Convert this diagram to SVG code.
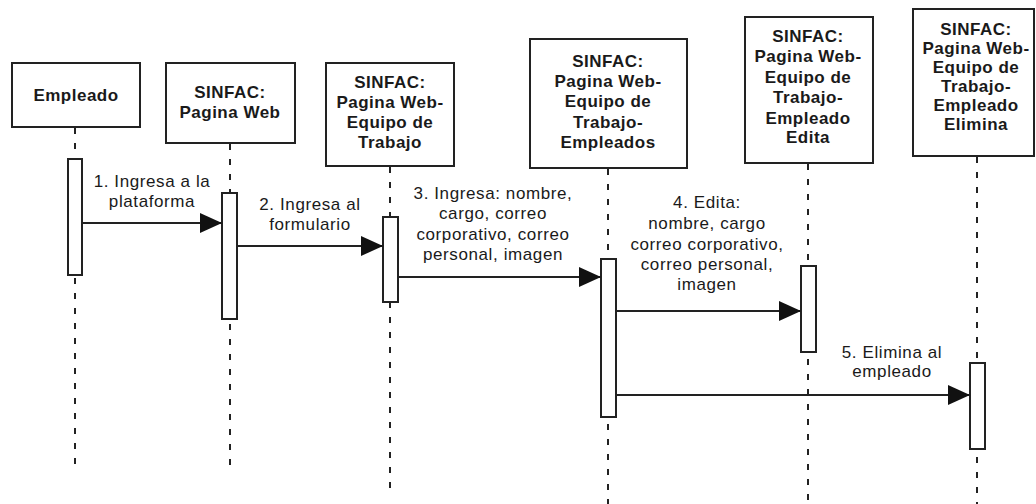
<svg xmlns="http://www.w3.org/2000/svg" width="1036" height="504" viewBox="0 0 1036 504">
<style>
.box{fill:#fff;stroke:#222;stroke-width:2}
.bar{fill:#fff;stroke:#222;stroke-width:2}
.life{stroke:#222;stroke-width:2;stroke-dasharray:6 9;fill:none}
.msg{stroke:#222;stroke-width:2;fill:none;marker-end:url(#ah)}
.h{font-family:"Liberation Sans",Arial,sans-serif;font-size:17px;font-weight:bold;fill:#1a1a1a;text-anchor:middle;letter-spacing:0.5px}
.l{font-family:"Liberation Sans",Arial,sans-serif;font-size:17px;fill:#1a1a1a;text-anchor:middle;letter-spacing:0.6px}
</style>
<defs>
<marker id="ah" markerUnits="userSpaceOnUse" markerWidth="22" markerHeight="20" refX="22" refY="10" orient="auto">
<path d="M0,0 L22,10 L0,20 Z" fill="#111"/>
</marker>
</defs>
<rect width="1036" height="504" fill="#fff"/>
<g id="lifelines">
<line class="life" x1="75" y1="128" x2="75" y2="473"/>
<line class="life" x1="230" y1="144" x2="230" y2="473"/>
<line class="life" x1="390" y1="167" x2="390" y2="497"/>
<line class="life" x1="608" y1="169" x2="608" y2="504"/>
<line class="life" x1="808" y1="164" x2="808" y2="504"/>
<line class="life" x1="977" y1="157" x2="977" y2="504"/>
</g>
<g id="n1">
<rect class="box" x="12" y="63" width="128" height="64"/>
<text class="h" x="76" y="101">Empleado</text>
<rect class="bar" x="68" y="159" width="14" height="116"/>
</g>
<g id="n2">
<rect class="box" x="166" y="63" width="129" height="80"/>
<text class="h" x="230" y="98">SINFAC:</text>
<text class="h" x="230" y="118">Pagina Web</text>
<rect class="bar" x="222" y="193" width="15" height="126"/>
</g>
<g id="n3">
<rect class="box" x="326" y="63" width="128" height="103"/>
<text class="h" x="390" y="88">SINFAC:</text>
<text class="h" x="390" y="108">Pagina Web-</text>
<text class="h" x="390" y="128">Equipo de</text>
<text class="h" x="390" y="148">Trabajo</text>
<rect class="bar" x="383" y="217" width="15" height="85"/>
</g>
<g id="n4">
<rect class="box" x="530" y="39" width="157" height="129"/>
<text class="h" x="608" y="67">SINFAC:</text>
<text class="h" x="608" y="87">Pagina Web-</text>
<text class="h" x="608" y="107">Equipo de</text>
<text class="h" x="608" y="128">Trabajo-</text>
<text class="h" x="608" y="148">Empleados</text>
<rect class="bar" x="601" y="259" width="15" height="158"/>
</g>
<g id="n5">
<rect class="box" x="745" y="17" width="128" height="146"/>
<text class="h" x="808" y="42">SINFAC:</text>
<text class="h" x="808" y="62">Pagina Web-</text>
<text class="h" x="808" y="83">Equipo de</text>
<text class="h" x="808" y="103">Trabajo-</text>
<text class="h" x="808" y="124">Empleado</text>
<text class="h" x="808" y="143">Edita</text>
<rect class="bar" x="801" y="266" width="15" height="86"/>
</g>
<g id="n6">
<rect class="box" x="913" y="9" width="121" height="147"/>
<text class="h" x="976" y="35">SINFAC:</text>
<text class="h" x="976" y="54">Pagina Web-</text>
<text class="h" x="976" y="73">Equipo de</text>
<text class="h" x="976" y="92">Trabajo-</text>
<text class="h" x="976" y="111">Empleado</text>
<text class="h" x="976" y="130">Elimina</text>
<rect class="bar" x="970" y="363" width="15" height="86"/>
</g>
<g id="connectors">
<line class="msg" x1="82" y1="223" x2="222" y2="223"/>
<text class="l" x="152" y="187">1. Ingresa a la</text>
<text class="l" x="152" y="207">plataforma</text>
<line class="msg" x1="237" y1="246" x2="383" y2="246"/>
<text class="l" x="310" y="210">2. Ingresa al</text>
<text class="l" x="310" y="230">formulario</text>
<line class="msg" x1="398" y1="277" x2="601" y2="277"/>
<text class="l" x="493" y="199">3. Ingresa: nombre,</text>
<text class="l" x="493" y="219">cargo, correo</text>
<text class="l" x="493" y="240">corporativo, correo</text>
<text class="l" x="493" y="260">personal, imagen</text>
<line class="msg" x1="616" y1="311" x2="801" y2="311"/>
<text class="l" x="707" y="208">4. Edita:</text>
<text class="l" x="707" y="229">nombre, cargo</text>
<text class="l" x="707" y="250">correo corporativo,</text>
<text class="l" x="707" y="270">correo personal,</text>
<text class="l" x="707" y="290">imagen</text>
<line class="msg" x1="616" y1="395" x2="970" y2="395"/>
<text class="l" x="892" y="358">5. Elimina al</text>
<text class="l" x="892" y="377">empleado</text>
</g>
</svg>
